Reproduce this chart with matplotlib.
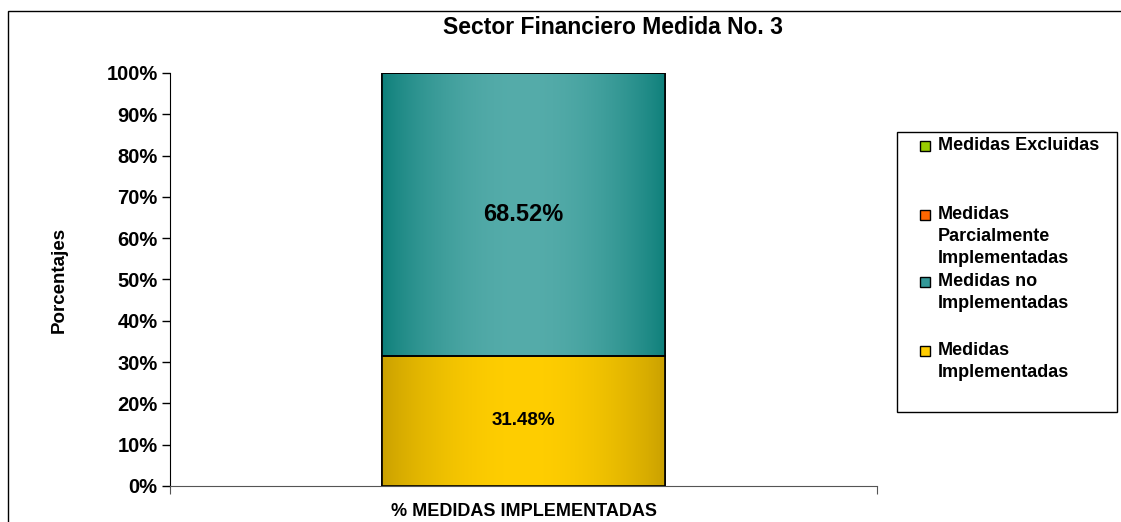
import numpy as np
import matplotlib.pyplot as plt
from matplotlib.patches import Rectangle
from matplotlib.colors import to_rgb

plt.rcParams['font.family'] = ['Liberation Sans', 'DejaVu Sans']
plt.rcParams['font.weight'] = 'bold'

# datos
categorias = ['% MEDIDAS IMPLEMENTADAS']
series = ['Medidas Implementadas', 'Medidas no Implementadas',
          'Medidas Parcialmente Implementadas', 'Medidas Excluidas']
valores = [31.48, 68.52, 0.0, 0.0]
colores = ['#FFCC00', '#339999', '#FF6600', '#99CC00']
# textos de leyenda tal como se cortan
leyenda = ['Medidas\nImplementadas', 'Medidas no\nImplementadas',
           'Medidas\nParcialmente\nImplementadas', 'Medidas Excluidas']
# colores de degradado (borde, centro)
degradados = [('#C9A000', '#FFCE00'), ('#0D7F7A', '#55ACAA'), None, None]
etiquetas = ['31.48%', '68.52%', None, None]
tam_etiqueta = [13.5, 17, None, None]

W, H = 1121, 522


def gradiente(ax, rect, c_borde, c_centro):
    x0, y0 = rect.get_x(), rect.get_y()
    w, h = rect.get_width(), rect.get_height()
    t = np.linspace(0, 1, 256)
    f = np.sin(np.pi * t) ** 0.8  # claro en el centro
    a = np.array(to_rgb(c_borde))
    b = np.array(to_rgb(c_centro))
    img = a[None, :] + (b - a)[None, :] * f[:, None]
    img = img[None, :, :]
    im = ax.imshow(img, extent=(x0, x0 + w, y0, y0 + h), aspect='auto',
                   zorder=2, interpolation='bilinear')
    im.set_clip_path(rect)


fig = plt.figure(figsize=(W / 100, H / 100), dpi=100)
ax = fig.add_axes([0.1517, 0.069, 0.6306, 0.7912])

x = np.arange(len(categorias))
base = np.zeros(len(categorias))
for i, s in enumerate(series):
    v = np.array([valores[i]])
    bars = ax.bar(x, v, 0.4, bottom=base, color=colores[i], edgecolor='black',
                  linewidth=1.2, label=s, zorder=3 if degradados[i] is None else 1)
    if v[0] > 0 and degradados[i] is not None:
        for r in bars:
            gradiente(ax, r, *degradados[i])
            # borde encima del degradado
            ax.add_patch(Rectangle((r.get_x(), r.get_y()), r.get_width(), r.get_height(),
                                   fill=False, edgecolor='black', linewidth=1.2, zorder=3))
            ax.text(r.get_x() + r.get_width() / 2, r.get_y() + r.get_height() / 2,
                    etiquetas[i], ha='center', va='center', fontsize=tam_etiqueta[i],
                    fontweight='bold', zorder=4)
    base = base + v

ax.set_xlim(-0.5, 0.5)
ax.set_ylim(0, 100)
ax.set_yticks(np.arange(0, 101, 10))
ax.set_yticklabels([f'{v}%' for v in range(0, 101, 10)], fontsize=14.5, fontweight='bold')
ax.tick_params(axis='y', direction='out', length=6, width=1, pad=3)
ax.set_xticks([-0.5, 0.5])
ax.set_xticklabels(['', ''])
ax.set_xticks([0], minor=True)
ax.set_xticklabels(categorias, minor=True, fontsize=13, fontweight='bold')
ax.tick_params(axis='x', which='major', direction='out', length=6, color='#555555')
ax.tick_params(axis='x', which='minor', length=0, pad=12)
for s in ['top', 'right']:
    ax.spines[s].set_visible(False)
ax.spines['bottom'].set_color('#555555')
ax.spines['left'].set_color('black')

ax.set_ylabel('Porcentajes', fontsize=13.5, fontweight='bold', labelpad=28)
fig.text(0.547, 1 - 28 / H, 'Sector Financiero Medida No. 3', ha='center', va='center',
         fontsize=16.5, fontweight='bold')

# leyenda (estilo Excel: cuadro alineado con la primera linea)
fig.patches.append(Rectangle((897 / W, 1 - 412 / H), 220 / W, 280 / H, fill=False,
                             edgecolor='black', linewidth=1, transform=fig.transFigure,
                             figure=fig))
y_primera = [351, 282, 215, 146]  # pixeles, primera linea de cada entrada
for i in range(len(series)):
    yc = 1 - y_primera[i] / H
    fig.patches.append(Rectangle((920 / W, yc - 5 / H), 10 / W, 10 / H,
                                 facecolor=colores[i], edgecolor='black', linewidth=1,
                                 transform=fig.transFigure, figure=fig))
    fig.text(938 / W, yc + 9 / H, leyenda[i], ha='left', va='top', fontsize=13,
             fontweight='bold', linespacing=1.38)

# borde exterior
fig.patches.append(Rectangle((8 / W, -0.2), 1.2, 1.2 - 11 / H, fill=False,
                             edgecolor='black', linewidth=1, transform=fig.transFigure,
                             figure=fig))

fig.savefig('out.png', dpi=100)
